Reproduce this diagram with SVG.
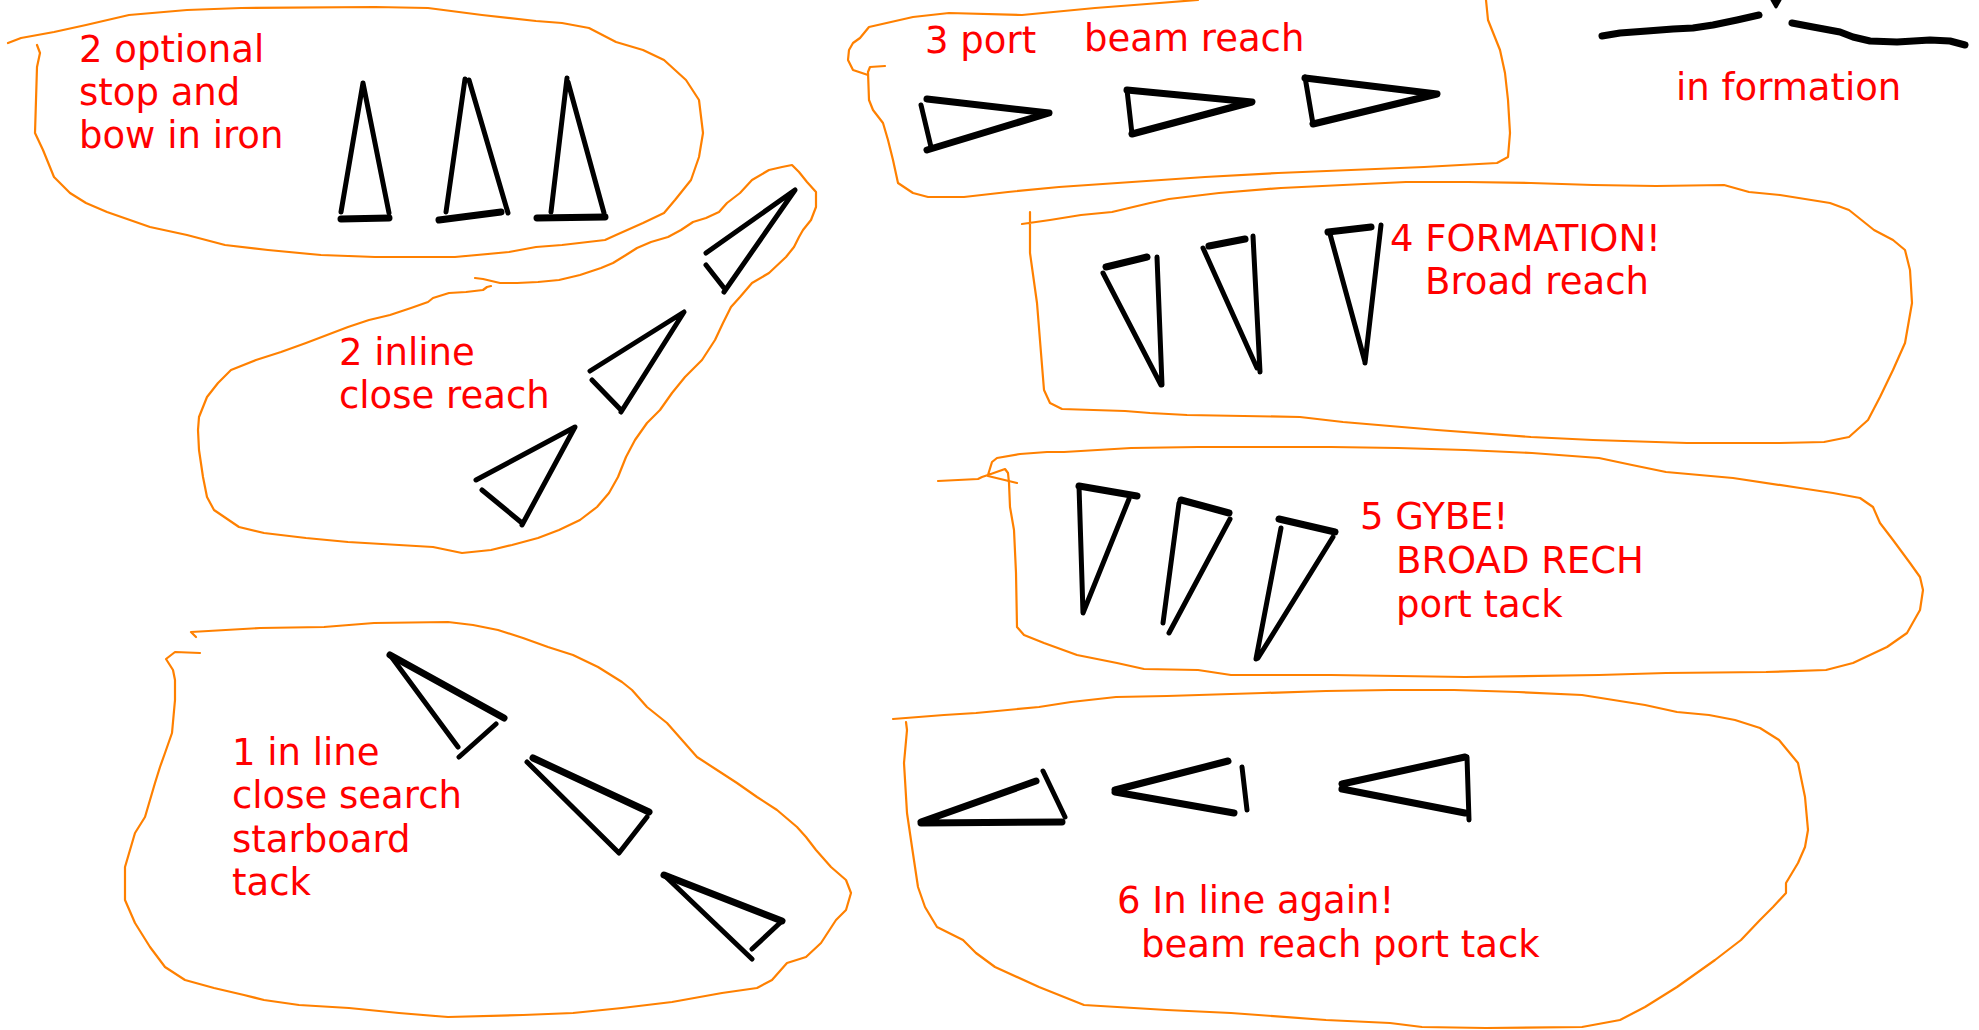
<svg xmlns="http://www.w3.org/2000/svg" width="1979" height="1030" viewBox="0 0 1979 1030">
  <style>
    .outline { fill: none; stroke: #ff8000; stroke-width: 2.2; stroke-linejoin: round; stroke-linecap: round; }
    .boat { fill: none; stroke: #000; stroke-width: 5; stroke-linecap: round; stroke-linejoin: round; }
    .boat-thick { fill: none; stroke: #000; stroke-width: 7; stroke-linecap: round; stroke-linejoin: round; }
    .label { fill: #ff0000; font-family: "DejaVu Sans", "Liberation Sans", sans-serif; font-size: 37px; }
  </style>
  <rect width="1979" height="1030" fill="#fff"/>

  <!-- 2: optional stop and bow in iron -->
  <g id="stop-bow-in-iron">
    <polyline class="outline" points="8,43 21,38 54,32 86,25 129,15 187,10 241,8 375,7 428,8 482,15 536,21 562,23 589,28 616,42 643,50 664,60 686,80 699,100 703,133 699,157 691,180 675,200 664,213 643,223 616,235 605,240 562,245 536,247 509,252 455,257 375,257 321,255 268,250 225,245 187,235 150,227 107,212 86,203 70,193 54,177 43,150 35,133 36,100 37,67 40,53 37,45"/>
    <path class="boat" d="M341,212 L363,83 M363,83 L389,213 M446,212 L465,79 M469,80 L508,213 M551,212 L567,78 M568,82 L604,213"/>
    <path class="boat-thick" d="M341,219 L389,218 M439,220 L501,212 M537,218 L605,217"/>
    <text class="label" x="79" y="62">2 optional</text>
    <text class="label" x="79" y="105">stop and</text>
    <text class="label" x="79" y="148">bow in iron</text>
  </g>

  <!-- 2: in line, close reach -->
  <g id="inline-close-reach">
    <polyline class="outline" points="475,278 483,279 500,283 517,283 538,282 559,280 580,275 601,268 613,263 626,255 637,248 651,242 668,237 681,230 693,222 706,218 719,212 727,203 740,193 752,180 769,170 782,167 792,165 799,172 807,182 816,192 816,207 811,220 803,230 799,237 794,247 786,257 769,273 752,283 740,297 731,307 723,323 715,340 702,360 685,377 672,393 660,410 647,423 635,440 626,457 618,477 609,493 597,507 580,520 559,530 538,538 512,545 491,550 462,553 433,547 399,545 348,542 306,538 264,533 239,527 214,510 207,497 203,477 199,450 198,430 199,417 207,397 218,383 231,370 256,360 281,352 306,343 327,335 348,327 369,320 390,315 411,308 428,302 433,298 449,293 466,292 483,290 487,287 491,286"/>
    <path class="boat" d="M706,253 L795,190 L724,292 M706,265 L724,288 M590,371 L684,312 L621,412 M592,380 L621,410 M476,480 L575,427 L522,525 M482,490 L522,523"/>
    <text class="label" x="339" y="365">2 inline</text>
    <text class="label" x="339" y="408">close reach</text>
  </g>

  <!-- 3: port, beam reach -->
  <g id="port-beam-reach">
    <polyline class="outline" points="1486,0 1488,20 1500,50 1505,73 1508,100 1510,133 1508,157 1497,163 1424,167 1351,170 1278,173 1205,177 1132,182 1059,187 1008,192 964,197 928,197 913,193 898,183 893,160 888,140 883,123 873,110 869,100 868,72 870,67 885,66"/>
    <polyline class="outline" points="868,75 853,70 848,60 849,50 853,43 860,38 869,27 913,17 949,13 1022,15 1095,8 1147,4 1198,0"/>
    <path class="boat" d="M921,105 L931,147 M1127,90 L1132,134 M1305,77 L1313,124"/>
    <path class="boat-thick" d="M927,99 L1049,113 L927,150 M1127,90 L1252,102 L1132,134 M1305,78 L1437,94 L1313,124"/>
    <text class="label" x="925" y="53">3 port</text>
    <text class="label" x="1084" y="51">beam reach</text>
  </g>

  <!-- sketch of the formation -->
  <g id="in-formation">
    <path class="boat-thick" d="M1602,36 L1620,33 L1647,31 L1673,29 L1693,28 L1713,25 L1737,20 L1759,15 M1792,23 L1813,27 L1840,32 L1853,37 L1870,41 L1897,42 L1930,40 L1950,41 L1965,45"/>
    <path d="M1772,0 L1780,0 L1776,7 Z" fill="#000" stroke="#000" stroke-width="3" stroke-linejoin="round"/>
    <text class="label" x="1676" y="100">in formation</text>
  </g>

  <!-- 4: formation, broad reach -->
  <g id="formation-broad-reach">
    <polyline class="outline" points="1022,224 1050,220 1081,215 1112,212 1150,203 1169,199 1219,193 1281,188 1343,185 1406,182 1468,182 1531,183 1593,185 1656,186 1724,185 1749,192 1780,195 1830,203 1849,210 1874,230 1893,240 1905,250 1910,270 1912,303 1905,343 1893,370 1880,397 1868,420 1849,437 1824,442 1780,443 1687,443 1593,440 1531,437 1437,430 1343,422 1300,417 1187,415 1150,413 1125,411 1062,409 1050,403 1044,390 1041,353 1037,303 1030,253 1030,212"/>
    <path class="boat" d="M1157,257 L1162,385 M1103,273 L1161,385 M1253,236 L1260,372 M1203,248 L1257,368 M1381,225 L1365,363 M1330,234 L1365,362"/>
    <path class="boat-thick" d="M1106,267 L1147,257 M1209,246 L1245,239 M1328,232 L1371,227"/>
    <text class="label" x="1390" y="251">4 FORMATION!</text>
    <text class="label" x="1425" y="294">Broad reach</text>
  </g>

  <!-- 5: gybe, broad reach port tack -->
  <g id="gybe-broad-reach">
    <polyline class="outline" points="938,481 978,479 982,477 988,475 992,462 997,458 1020,454 1047,452 1064,452 1131,448 1198,447 1264,447 1331,447 1398,448 1465,450 1532,453 1599,458 1632,465 1666,472 1733,478 1800,488 1833,493 1860,498 1873,507 1880,523 1893,540 1910,563 1920,577 1923,590 1920,610 1907,633 1887,647 1853,663 1826,670 1766,672 1666,673 1599,675 1465,677 1331,675 1231,675 1198,670 1144,669 1117,663 1077,655 1044,643 1024,635 1017,627 1016,573 1014,530 1010,507 1009,483 1008,473 1005,469 988,475"/>
    <polyline class="outline" points="988,476 1017,483"/>
    <path class="boat" d="M1079,486 L1083,613 L1129,499 M1179,503 L1163,623 M1230,519 L1169,633 M1281,528 L1256,659 M1333,537 L1258,658"/>
    <path class="boat-thick" d="M1079,486 L1137,496 M1181,500 L1229,513 M1279,519 L1335,532"/>
    <text class="label" x="1360" y="529">5 GYBE!</text>
    <text class="label" x="1396" y="573">BROAD RECH</text>
    <text class="label" x="1396" y="617">port tack</text>
  </g>

  <!-- 1: in line, close search, starboard tack -->
  <g id="inline-starboard-tack">
    <polyline class="outline" points="196,637 191,632 260,628 324,627 374,623 448,622 473,625 498,630 523,638 548,647 573,655 598,667 622,682 632,690 647,707 667,723 682,740 697,757 717,770 737,783 757,797 777,810 797,827 806,837 816,850 831,867 846,880 851,893 846,910 836,920 821,943 806,957 787,963 772,980 757,988 722,993 672,1002 622,1008 573,1013 523,1015 448,1017 399,1013 349,1008 299,1005 264,1000 244,995 214,988 185,980 165,967 150,947 135,923 125,900 125,867 135,833 145,817 150,800 155,783 160,767 165,753 172,733 175,700 175,680 173,670 166,659 175,652 200,653"/>
    <path class="boat" d="M390,655 L458,747 M496,724 L459,757 M527,762 L619,853 L647,817 M664,875 L752,959 M782,921 L752,949"/>
    <path class="boat-thick" d="M390,655 L504,718 M533,758 L649,812 M664,875 L782,921"/>
    <text class="label" x="232" y="765">1 in line</text>
    <text class="label" x="232" y="808">close search</text>
    <text class="label" x="232" y="852">starboard</text>
    <text class="label" x="232" y="895">tack</text>
  </g>

  <!-- 6: in line again, beam reach port tack -->
  <g id="inline-again-port-tack">
    <polyline class="outline" points="893,719 944,715 976,713 1039,707 1071,702 1116,697 1167,696 1199,695 1263,693 1326,691 1390,690 1454,690 1518,692 1582,695 1645,705 1677,712 1709,715 1735,720 1760,728 1779,740 1798,763 1805,797 1808,830 1805,847 1798,863 1786,883 1786,893 1773,907 1760,920 1741,940 1715,960 1677,987 1645,1007 1620,1020 1582,1027 1486,1028 1422,1027 1390,1023 1326,1020 1231,1013 1167,1010 1084,1005 1039,987 995,967 976,953 963,940 937,927 925,907 918,887 912,847 907,813 904,763 907,730 906,722"/>
    <path class="boat" d="M1043,771 L1065,817 M1242,767 L1247,810 M1467,757 L1469,820"/>
    <path class="boat-thick" d="M921,823 L1062,822 M921,822 L1036,781 M1115,790 L1228,761 M1115,792 L1234,813 M1342,784 L1465,757 M1342,789 L1465,813"/>
    <text class="label" x="1117" y="913">6 In line again!</text>
    <text class="label" x="1141" y="957">beam reach port tack</text>
  </g>
</svg>
